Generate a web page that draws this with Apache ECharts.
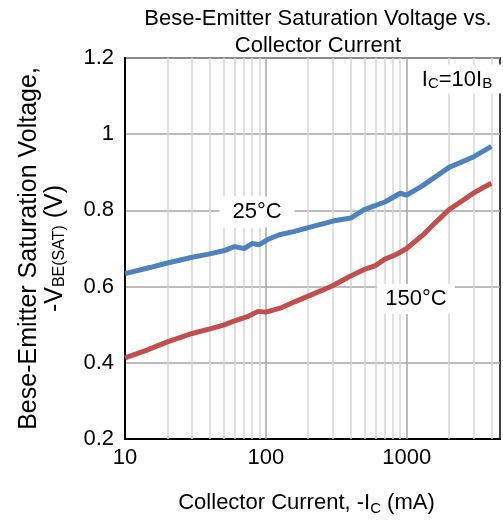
<!DOCTYPE html>
<html>
<head>
<meta charset="utf-8">
<script src="https://cdn.jsdelivr.net/npm/echarts@6/dist/echarts.min.js"></script>
<style>
  html, body { margin: 0; padding: 0; background: #fff; }
  #chart { width: 503px; height: 521px; }
</style>
</head>
<body>
<div id="chart"></div>
<script>
// collector current (mA) and -VBE(SAT) (V)
const ic25 = [10, 15, 20, 30, 40, 50, 60, 70, 80, 90, 105, 125, 160, 200, 300, 400, 500, 700, 900, 1000, 1300, 2000, 3000, 4000];
const vbe25 = [0.634, 0.650, 0.662, 0.677, 0.686, 0.694, 0.705, 0.700, 0.713, 0.710, 0.725, 0.736, 0.745, 0.755, 0.772, 0.780, 0.802, 0.822, 0.845, 0.840, 0.865, 0.913, 0.941, 0.968];

const ic150 = [10, 14, 20, 30, 40, 50, 60, 75, 88, 100, 130, 160, 200, 250, 300, 400, 500, 600, 700, 850, 1000, 1300, 1600, 2000, 2500, 3000, 3500, 4000];
const vbe150 = [0.413, 0.432, 0.455, 0.477, 0.489, 0.499, 0.510, 0.522, 0.535, 0.533, 0.545, 0.560, 0.575, 0.590, 0.603, 0.628, 0.645, 0.655, 0.672, 0.685, 0.700, 0.735, 0.768, 0.802, 0.826, 0.846, 0.860, 0.871];

const majorTicks = [100, 1000];
const minorTicks = [20, 30, 40, 50, 60, 70, 80, 90, 200, 300, 400, 500, 600, 700, 800, 900, 2000, 3000, 4000];

const font = '"Liberation Sans", Arial, sans-serif';
const chart = echarts.init(document.getElementById('chart'));

const pair = (xs, ys) => xs.map((x, i) => [x, ys[i]]);

const option = {
  animation: false,
  textStyle: { fontFamily: font },
  title: {
    text: 'Bese-Emitter Saturation Voltage vs.\nCollector Current',
    left: 318,
    top: 5,
    padding: 0,
    textAlign: 'center',
    textStyle: { fontFamily: font, fontSize: 22, fontWeight: 'normal', color: '#000', lineHeight: 27 }
  },
  grid: {
    left: 125, right: -3, top: 58, bottom: 82,
    show: true, borderColor: '#000', borderWidth: 1.5
  },
  xAxis: {
    type: 'log',
    logBase: 10,
    min: 10,
    max: 4600,
    axisLine: { show: true, lineStyle: { color: '#000', width: 2 } },
    axisTick: { show: false },
    splitLine: { show: false },
    axisLabel: {
      color: '#000', fontSize: 22, margin: 8,
      formatter: v => {
        const p = Math.log10(v);
        return Math.abs(p - Math.round(p)) < 1e-6 ? String(Math.pow(10, Math.round(p))) : '';
      }
    },
    name: '{a|Collector Current, -I}{s|C}{a| (mA)}',
    nameLocation: 'middle',
    nameGap: 51,
    nameTextStyle: {
      padding: [0, 12, 0, 0],
      rich: {
        a: { fontFamily: font, fontSize: 22, color: '#000', lineHeight: 26 },
        s: { fontFamily: font, fontSize: 15, color: '#000', lineHeight: 26, verticalAlign: 'bottom' }
      }
    }
  },
  yAxis: {
    type: 'value',
    min: 0.2,
    max: 1.2,
    interval: 0.2,
    axisLine: { show: true, lineStyle: { color: '#000', width: 2 } },
    axisTick: { show: false },
    axisLabel: { color: '#000', fontSize: 22, margin: 11 },
    splitLine: { lineStyle: { color: '#a6a6a6', width: 1.5 } },
    name: '{a|Bese-Emitter Saturation Voltage,}\n{a|-V}{s|BE(SAT)}{a| (V)}',
    nameLocation: 'middle',
    nameRotate: 90,
    nameGap: 57,
    nameTextStyle: {
      rich: {
        a: { fontFamily: font, fontSize: 25, color: '#000', lineHeight: 26 },
        s: { fontFamily: font, fontSize: 16, color: '#000', lineHeight: 26, verticalAlign: 'bottom' }
      }
    }
  },
  series: [
    {
      name: 'grid',
      type: 'line',
      data: [],
      silent: true,
      markLine: {
        silent: true,
        symbol: 'none',
        z: 1,
        label: { show: false },
        emphasis: { disabled: true },
        data: minorTicks.map(v => ({ xAxis: v, lineStyle: { color: '#d6d6d6', width: 1.5, type: 'solid' } }))
          .concat(majorTicks.map(v => ({ xAxis: v, lineStyle: { color: '#a6a6a6', width: 1.5, type: 'solid' } })))
      }
    },
    {
      name: '25°C',
      type: 'line',
      data: pair(ic25, vbe25),
      showSymbol: false,
      z: 3,
      lineStyle: { color: '#4f81bd', width: 5 }
    },
    {
      name: '150°C',
      type: 'line',
      data: pair(ic150, vbe150),
      showSymbol: false,
      z: 3,
      lineStyle: { color: '#c0504d', width: 5 }
    }
  ],
  graphic: [
    {
      type: 'text', x: 257, y: 212, z: 10,
      style: {
        text: '25°C', font: '22px ' + font, fill: '#000',
        align: 'center', verticalAlign: 'middle',
        backgroundColor: '#fff', padding: [5, 13, 4, 13]
      }
    },
    {
      type: 'text', x: 416, y: 299, z: 10,
      style: {
        text: '150°C', font: '22px ' + font, fill: '#000',
        align: 'center', verticalAlign: 'middle',
        backgroundColor: '#fff', padding: [4, 8, 4, 8]
      }
    },
    {
      type: 'text', x: 457, y: 79, z: 10,
      style: {
        text: '{n|I}{s|C}{n|=10I}{s|B}',
        align: 'center', verticalAlign: 'middle',
        backgroundColor: '#fff', padding: [3, 12, 2, 12],
        rich: {
          n: { font: '22px ' + font, fill: '#000', lineHeight: 24 },
          s: { font: '15px ' + font, fill: '#000', lineHeight: 24, verticalAlign: 'bottom' }
        }
      }
    }
  ]
};

chart.setOption(option);
window.addEventListener('resize', () => chart.resize());
</script>
</body>
</html>
